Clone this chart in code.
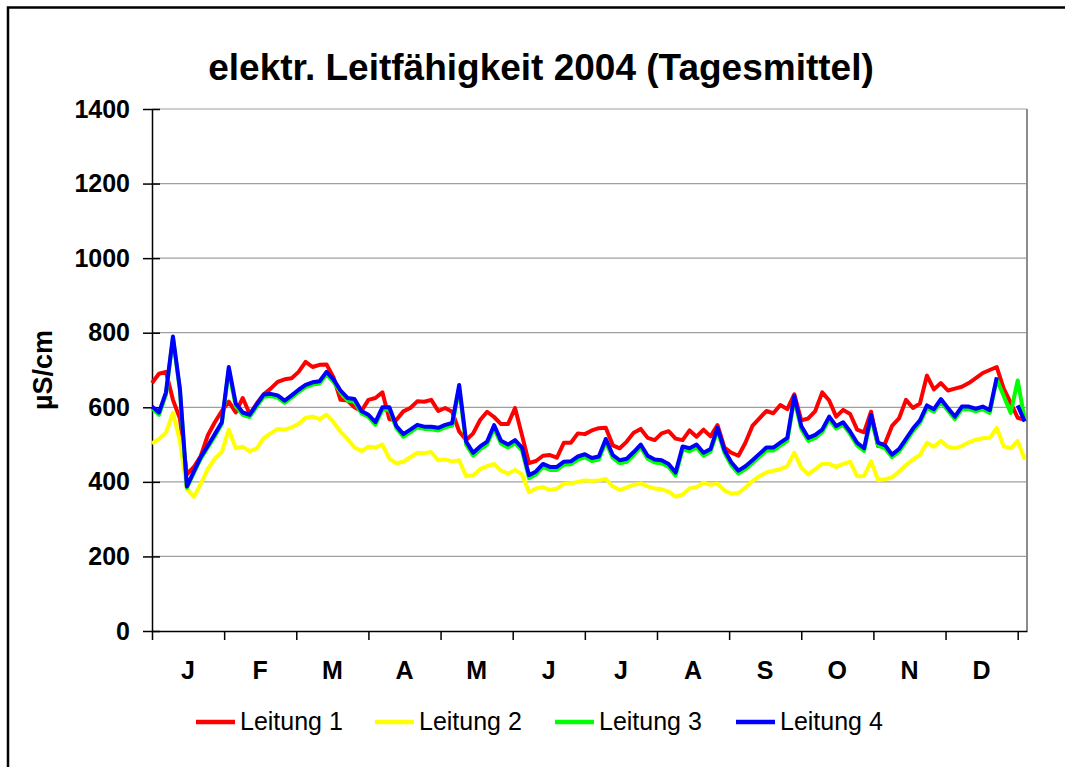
<!DOCTYPE html>
<html>
<head>
<meta charset="utf-8">
<script src="https://cdn.jsdelivr.net/npm/d3@7"></script>
<style>
  html, body { margin: 0; background: #fff; overflow: hidden; }
  svg { display: block; }
  text { font-family: 'Liberation Sans', Arial, sans-serif; }
</style>
</head>
<body>
<div id="chart"></div>
<script>
const tage = d3.range(0, 376, 3)

const monate = ['J', 'F', 'M', 'A', 'M', 'J', 'J', 'A', 'S', 'O', 'N', 'D']
const yTicks = [0, 200, 400, 600, 800, 1000, 1200, 1400]

const leitung1 = [
  665, 690, 695, 620, 570, 420, 440, 470, 525, 560,
  590, 615, 586, 625, 582, 610, 635, 650, 668, 675,
  678, 695, 722, 708, 714, 715, 680, 620, 618, 600,
  590, 620, 625, 640, 568, 566, 589, 598, 616, 615,
  620, 590, 598, 588, 535, 512, 530, 566, 588, 574,
  555, 555, 598, 525, 450, 456, 470, 472, 465, 505,
  505, 530, 528, 538, 544, 545, 498, 490, 508, 532,
  542, 518, 512, 530, 536, 516, 512, 538, 521, 540,
  522, 552, 492, 478, 470, 505, 550, 570, 590, 584,
  606, 595, 635, 565, 570, 590, 640, 618, 575, 593,
  582, 540, 533, 588, 496, 503, 550, 570, 620, 598,
  610, 685, 648, 665, 645, 650, 655, 665, 678, 692,
  700, 708, 650, 612, 572, 566
]

const leitung2 = [
  503, 515, 532, 585, 510, 380, 360, 395, 435, 462,
  480, 540, 490, 494, 482, 490, 517, 530, 542, 540,
  546, 556, 572, 575, 568, 580, 560, 535, 515, 492,
  483, 494, 492, 500, 462, 450, 454, 466, 478, 477,
  480, 458, 460, 455, 458, 415, 418, 434, 442, 448,
  430, 422, 432, 420, 372, 382, 386, 378, 382, 395,
  396, 400, 404, 402, 404, 408, 388, 378, 385, 392,
  396, 388, 382, 380, 374, 360, 366, 382, 386, 398,
  392, 395, 377, 368, 370, 385, 402, 415, 425, 430,
  434, 442, 478, 438, 420, 434, 448, 448, 440, 448,
  454, 415, 416, 455, 405, 407, 412, 428, 445, 460,
  472, 505, 494, 510, 494, 490, 496, 506, 513, 517,
  518, 545, 495, 490, 510, 460
]

const leitung3 = [
  598, 580, 634, 785, 645, 384, 424, 462, 492, 522,
  555, 700, 602, 580, 574, 602, 628, 630, 626, 612,
  626, 641, 654, 661, 664, 688, 668, 640, 618, 615,
  584, 574, 553, 593, 594, 544, 521, 533, 546, 542,
  541, 538, 546, 551, 650, 500, 470, 487, 500, 544,
  502, 492, 504, 484, 410, 420, 440, 432, 432, 446,
  447, 460, 466, 456, 460, 507, 464, 450, 454, 472,
  493, 462, 452, 450, 440, 417, 487, 482, 492, 470,
  481, 538, 478, 444, 422, 434, 450, 467, 484, 484,
  497, 510, 622, 542, 510, 518, 533, 568, 543, 553,
  528, 498, 483, 572, 497, 490, 466, 481, 508, 536,
  558, 598, 588, 615, 591, 568, 595, 595, 589, 595,
  585, 675, 630, 585, 672, 566
]

const leitung4 = [
  602, 586, 640, 790, 650, 388, 428, 467, 497, 528,
  560, 708, 610, 586, 580, 608, 634, 636, 632, 618,
  632, 647, 660, 667, 670, 695, 675, 645, 625, 622,
  590, 580, 560, 600, 600, 550, 528, 540, 553, 548,
  548, 545, 553, 558, 660, 508, 478, 495, 508, 552,
  510, 500, 512, 492, 418, 428, 448, 440, 440, 454,
  455, 468, 474, 464, 468, 515, 472, 458, 462, 480,
  500, 470, 460, 458, 448, 425, 495, 490, 500, 478,
  488, 545, 485, 452, 430, 442, 458, 475, 492, 492,
  505, 518, 630, 550, 518, 526, 540, 575, 550, 560,
  535, 505, 490, 580, 505, 498, 473, 488, 515, 543,
  565, 605, 595, 622, 598, 575, 602, 602, 596, 602,
  592, 680, null, null, 605, 562
]

const serien = [
  { name: 'Leitung 1', values: leitung1, color: '#ff0000' },
  { name: 'Leitung 2', values: leitung2, color: '#ffff00' },
  { name: 'Leitung 3', values: leitung3, color: '#00ff00' },
  { name: 'Leitung 4', values: leitung4, color: '#0000ff' }
]

const width = 1065
const height = 767
const plot = { left: 152, right: 1027, top: 109, bottom: 631 }

const svg = d3
  .select('#chart')
  .append('svg')
  .attr('width', width)
  .attr('height', height)

// outer frame, only left and top edges are inside the picture
svg
  .append('path')
  .attr('d', `M8,${height} V7.5 H${width}`)
  .attr('fill', 'none')
  .attr('stroke', '#000')
  .attr('stroke-width', 2.5)

// scales
const x = d3
  .scaleLinear()
  .domain([0, 376])
  .range([plot.left, plot.right])

const y = d3
  .scaleLinear()
  .domain([0, 1400])
  .range([plot.bottom, plot.top])

// gridlines
svg
  .selectAll('.grid')
  .data(yTicks.filter(d => d > 0))
  .enter()
  .append('line')
  .attr('x1', plot.left)
  .attr('x2', plot.right)
  .attr('y1', d => y(d))
  .attr('y2', d => y(d))
  .attr('stroke', '#a0a0a0')
  .attr('stroke-width', 1.2)

// right border of plot area
svg
  .append('line')
  .attr('x1', plot.right)
  .attr('x2', plot.right)
  .attr('y1', plot.top)
  .attr('y2', plot.bottom)
  .attr('stroke', '#8c8c8c')
  .attr('stroke-width', 2)

// y axis
const yAxis = d3
  .axisLeft(y)
  .tickValues(yTicks)
  .tickFormat(d3.format('d'))
  .tickSizeInner(-8)
  .tickSizeOuter(0)
  .tickPadding(13)

const yG = svg
  .append('g')
  .attr('transform', `translate(${plot.left},0)`)
  .call(yAxis)

yG.select('.domain').attr('stroke', '#000').attr('stroke-width', 1.5)
yG.selectAll('.tick line')
  .attr('x1', -9)
  .attr('x2', 8)
  .attr('stroke', '#000')
  .attr('stroke-width', 1.5)
yG.selectAll('.tick text')
  .attr('x', -22)
  .style('font-size', '25px')
  .style('font-weight', 'bold')
  .style('font-family', "'Liberation Sans', Arial, sans-serif")
  .attr('fill', '#000')

// x axis, one tick every 31 days
const monatsTicks = d3.range(0, 13).map(i => i * 31)

const xAxis = d3
  .axisBottom(x)
  .tickValues(monatsTicks)
  .tickSize(9)
  .tickSizeOuter(0)
  .tickFormat('')

const xG = svg
  .append('g')
  .attr('transform', `translate(0,${plot.bottom})`)
  .call(xAxis)

xG.select('.domain').attr('stroke', '#000').attr('stroke-width', 1.5)
xG.selectAll('.tick line').attr('stroke', '#000').attr('stroke-width', 1.5)

svg
  .selectAll('.monat')
  .data(monate)
  .enter()
  .append('text')
  .text(d => d)
  .attr('x', (d, i) => x(i * 31 + 15.5))
  .attr('y', 679)
  .attr('text-anchor', 'middle')
  .style('font-size', '25px')
  .style('font-weight', 'bold')

// lines
const line = d3
  .line()
  .defined(d => d != null)
  .x((d, i) => x(tage[i]))
  .y(d => y(d))

svg
  .selectAll('.serie')
  .data(serien)
  .enter()
  .append('path')
  .attr('d', d => line(d.values))
  .attr('fill', 'none')
  .attr('stroke', d => d.color)
  .attr('stroke-width', 4)
  .attr('stroke-linejoin', 'round')

// title
svg
  .append('text')
  .text('elektr. Leitfähigkeit 2004 (Tagesmittel)')
  .attr('x', 541)
  .attr('y', 80)
  .attr('text-anchor', 'middle')
  .style('font-size', '37px')
  .style('font-weight', 'bold')

// y axis title
svg
  .append('text')
  .text('µS/cm')
  .attr('transform', 'translate(52,370) rotate(-90)')
  .attr('text-anchor', 'middle')
  .style('font-size', '27px')
  .style('font-weight', 'bold')

// legend
const legendX = [196, 375, 555, 736]

const legend = svg
  .selectAll('.legend')
  .data(serien)
  .enter()
  .append('g')
  .attr('transform', (d, i) => `translate(${legendX[i]},722)`)

legend
  .append('line')
  .attr('x1', 0)
  .attr('x2', 39)
  .attr('stroke', d => d.color)
  .attr('stroke-width', 4.5)

legend
  .append('text')
  .text(d => d.name)
  .attr('x', 44)
  .attr('y', 8)
  .style('font-size', '25px')
</script>
</body>
</html>
